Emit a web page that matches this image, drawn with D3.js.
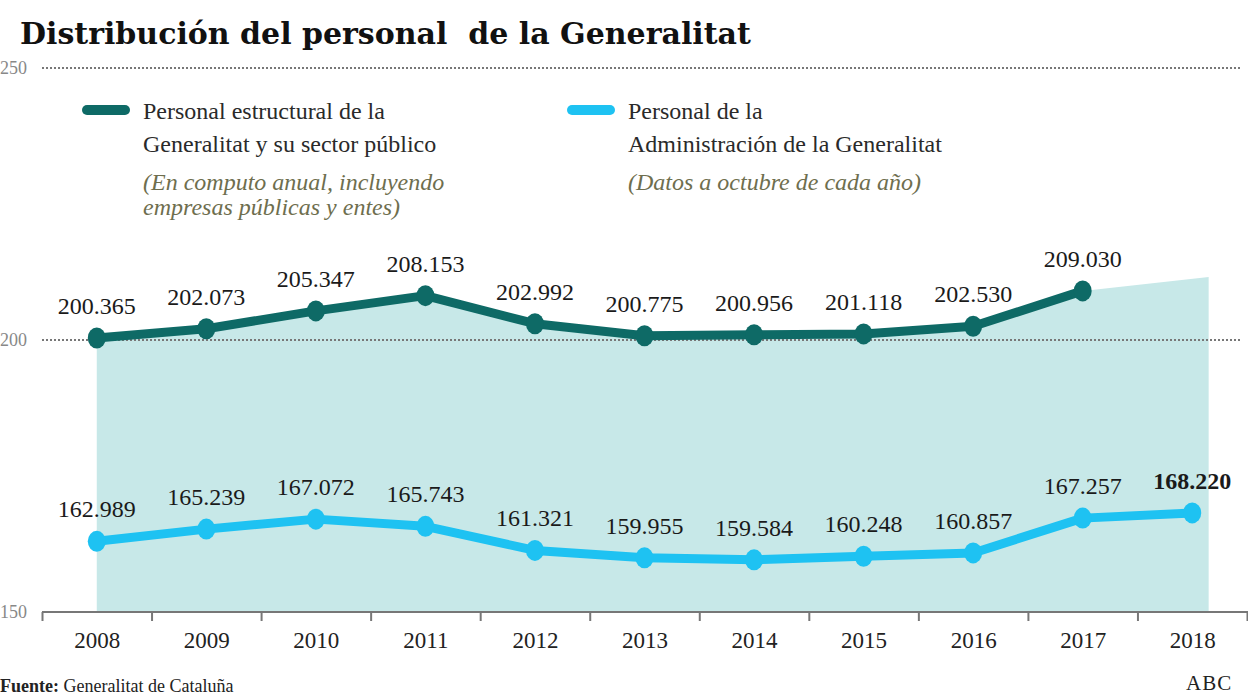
<!DOCTYPE html>
<html><head><meta charset="utf-8">
<script src="https://cdn.jsdelivr.net/npm/d3@7"></script>
<style>body{margin:0;background:#fff}svg{display:block}
.sf{font-family:"Liberation Serif","Times New Roman","DejaVu Serif",serif}</style>
</head><body>
<svg id="c" width="1248" height="698"></svg>
<script>
const years = [2008,2009,2010,2011,2012,2013,2014,2015,2016,2017,2018];
const estructural = [200.365,202.073,205.347,208.153,202.992,200.775,200.956,201.118,202.530,209.030];
const administracion = [162.989,165.239,167.072,165.743,161.321,159.955,159.584,160.248,160.857,167.257,168.220];
const areaYears = [2008,2009,2010,2011,2012,2013,2014,2015,2016,2017,2018.15];
const areaValues = [200.365,202.073,205.347,208.153,202.992,200.775,200.956,201.118,202.530,209.030,211.6];
const yTicks = [150,200,250];
const legendLabels = [
  ["Personal estructural de la","Generalitat y su sector público"],
  ["Personal de la","Administración de la Generalitat"]];
const legendNotes = [["(En computo anual, incluyendo","empresas públicas y entes)"],["(Datos a octubre de cada año)"]];
const fmt = v => d3.format(".3f")(v);

const DARK = "#0e6a66", LIGHT = "#1ec2f2", AREA = "#c7e8e8";
const svg = d3.select("#c");
const x = d3.scaleLinear().domain([2007.5, 2018.5]).range([42, 1247]);
const y = d3.scaleLinear().domain([150, 250]).range([612, 68]);

// area
svg.append("path")
  .datum(areaYears.map((d,i)=>[d, areaValues[i]]))
  .attr("fill", AREA)
  .attr("d", d3.area().x(d=>x(d[0])).y0(y(150)).y1(d=>y(d[1])));

// gridlines
svg.append("g").selectAll("line").data(yTicks.filter(t=>t>150)).join("line")
  .attr("x1", 42).attr("x2", 1240)
  .attr("y1", d=>y(d)).attr("y2", d=>y(d))
  .attr("stroke", "#777").attr("stroke-width", 2).attr("stroke-dasharray", "2,2");
svg.append("g").selectAll("text").data(yTicks).join("text").attr("class","sf")
  .attr("x", 0).attr("y", d=>y(d)+6)
  .attr("font-size", 18).attr("fill", "#888")
  .text(d=>d);

// x axis
const edges = d3.range(2007.5, 2019, 1);
const ax = svg.append("g").attr("transform", `translate(0,${y(150)})`)
  .call(d3.axisBottom(x).tickValues(edges).tickFormat("").tickSize(9).tickSizeOuter(0));
ax.select(".domain").attr("stroke", "#777").attr("stroke-width", 2).attr("d", `M42,0H1248`);
ax.selectAll(".tick line").attr("stroke", "#777").attr("stroke-width", 2);
const ax2 = svg.append("g").attr("transform", `translate(0,${y(150)})`)
  .call(d3.axisBottom(x).tickValues(years).tickFormat(d3.format("d")).tickSize(0).tickPadding(20));
ax2.select(".domain").remove();
ax2.attr("font-family", null).attr("font-size", null);
ax2.selectAll("text").attr("class","sf").attr("font-size", 23).attr("fill", "#222");

// lines
function series(vals, color, sw, r) {
  const pts = vals.map((v,i)=>[years[i], v]);
  svg.append("path").datum(pts).attr("fill","none").attr("stroke", color)
    .attr("stroke-width", sw).attr("stroke-linejoin","round")
    .attr("d", d3.line().x(d=>x(d[0])).y(d=>y(d[1])));
  svg.append("g").selectAll("ellipse").data(pts).join("ellipse")
    .attr("cx", d=>x(d[0])).attr("cy", d=>y(d[1])).attr("rx", r).attr("ry", r+1.5).attr("fill", color);
  svg.append("g").selectAll("text").data(pts).join("text").attr("class","sf")
    .attr("x", d=>x(d[0])).attr("y", d=>y(d[1]) - 24)
    .attr("text-anchor", "middle")
    .attr("font-size", 24).attr("fill", "#1a1a1a")
    .attr("font-weight", (d,i)=> (vals === administracion && i === vals.length-1) ? "bold" : "normal")
    .text(d=>fmt(d[1]));
}
series(estructural, DARK, 9, 9);
series(administracion, LIGHT, 9, 9);

// title
svg.append("text").attr("x", 20).attr("y", 44)
  .attr("font-family", "DejaVu Serif").attr("font-weight", "bold").attr("font-size", 30)
  .attr("fill", "#111").style("white-space","pre")
  .text("Distribución del personal  de la Generalitat");

// legend
const legX = [82, 567], colors = [DARK, LIGHT];
legX.forEach((lx, k) => {
  svg.append("line").attr("x1", lx+5).attr("x2", lx+43).attr("y1", 110).attr("y2", 110)
    .attr("stroke", colors[k]).attr("stroke-width", 10).attr("stroke-linecap", "round");
  legendLabels[k].forEach((t, j) => {
    svg.append("text").attr("class","sf").attr("x", lx+61).attr("y", 119 + j*33)
      .attr("font-size", 24).attr("fill", "#2a2a2a").text(t);
  });
  legendNotes[k].forEach((t, j) => {
    svg.append("text").attr("class","sf").attr("x", lx+61).attr("y", 190 + j*25)
      .attr("font-style", "italic").attr("font-size", 24)
      .attr("fill", "#6e6e4e").text(t);
  });
});

// footer
const ft = svg.append("text").attr("class","sf").attr("x", 0).attr("y", 692)
  .attr("font-size", 18).attr("fill", "#222");
ft.append("tspan").attr("font-weight", "bold").text("Fuente: ");
ft.append("tspan").text("Generalitat de Cataluña");
svg.append("text").attr("class","sf").attr("x", 1186).attr("y", 690)
  .attr("font-size", 21).attr("fill", "#222")
  .attr("letter-spacing", 1).text("ABC");
</script>
</body></html>
